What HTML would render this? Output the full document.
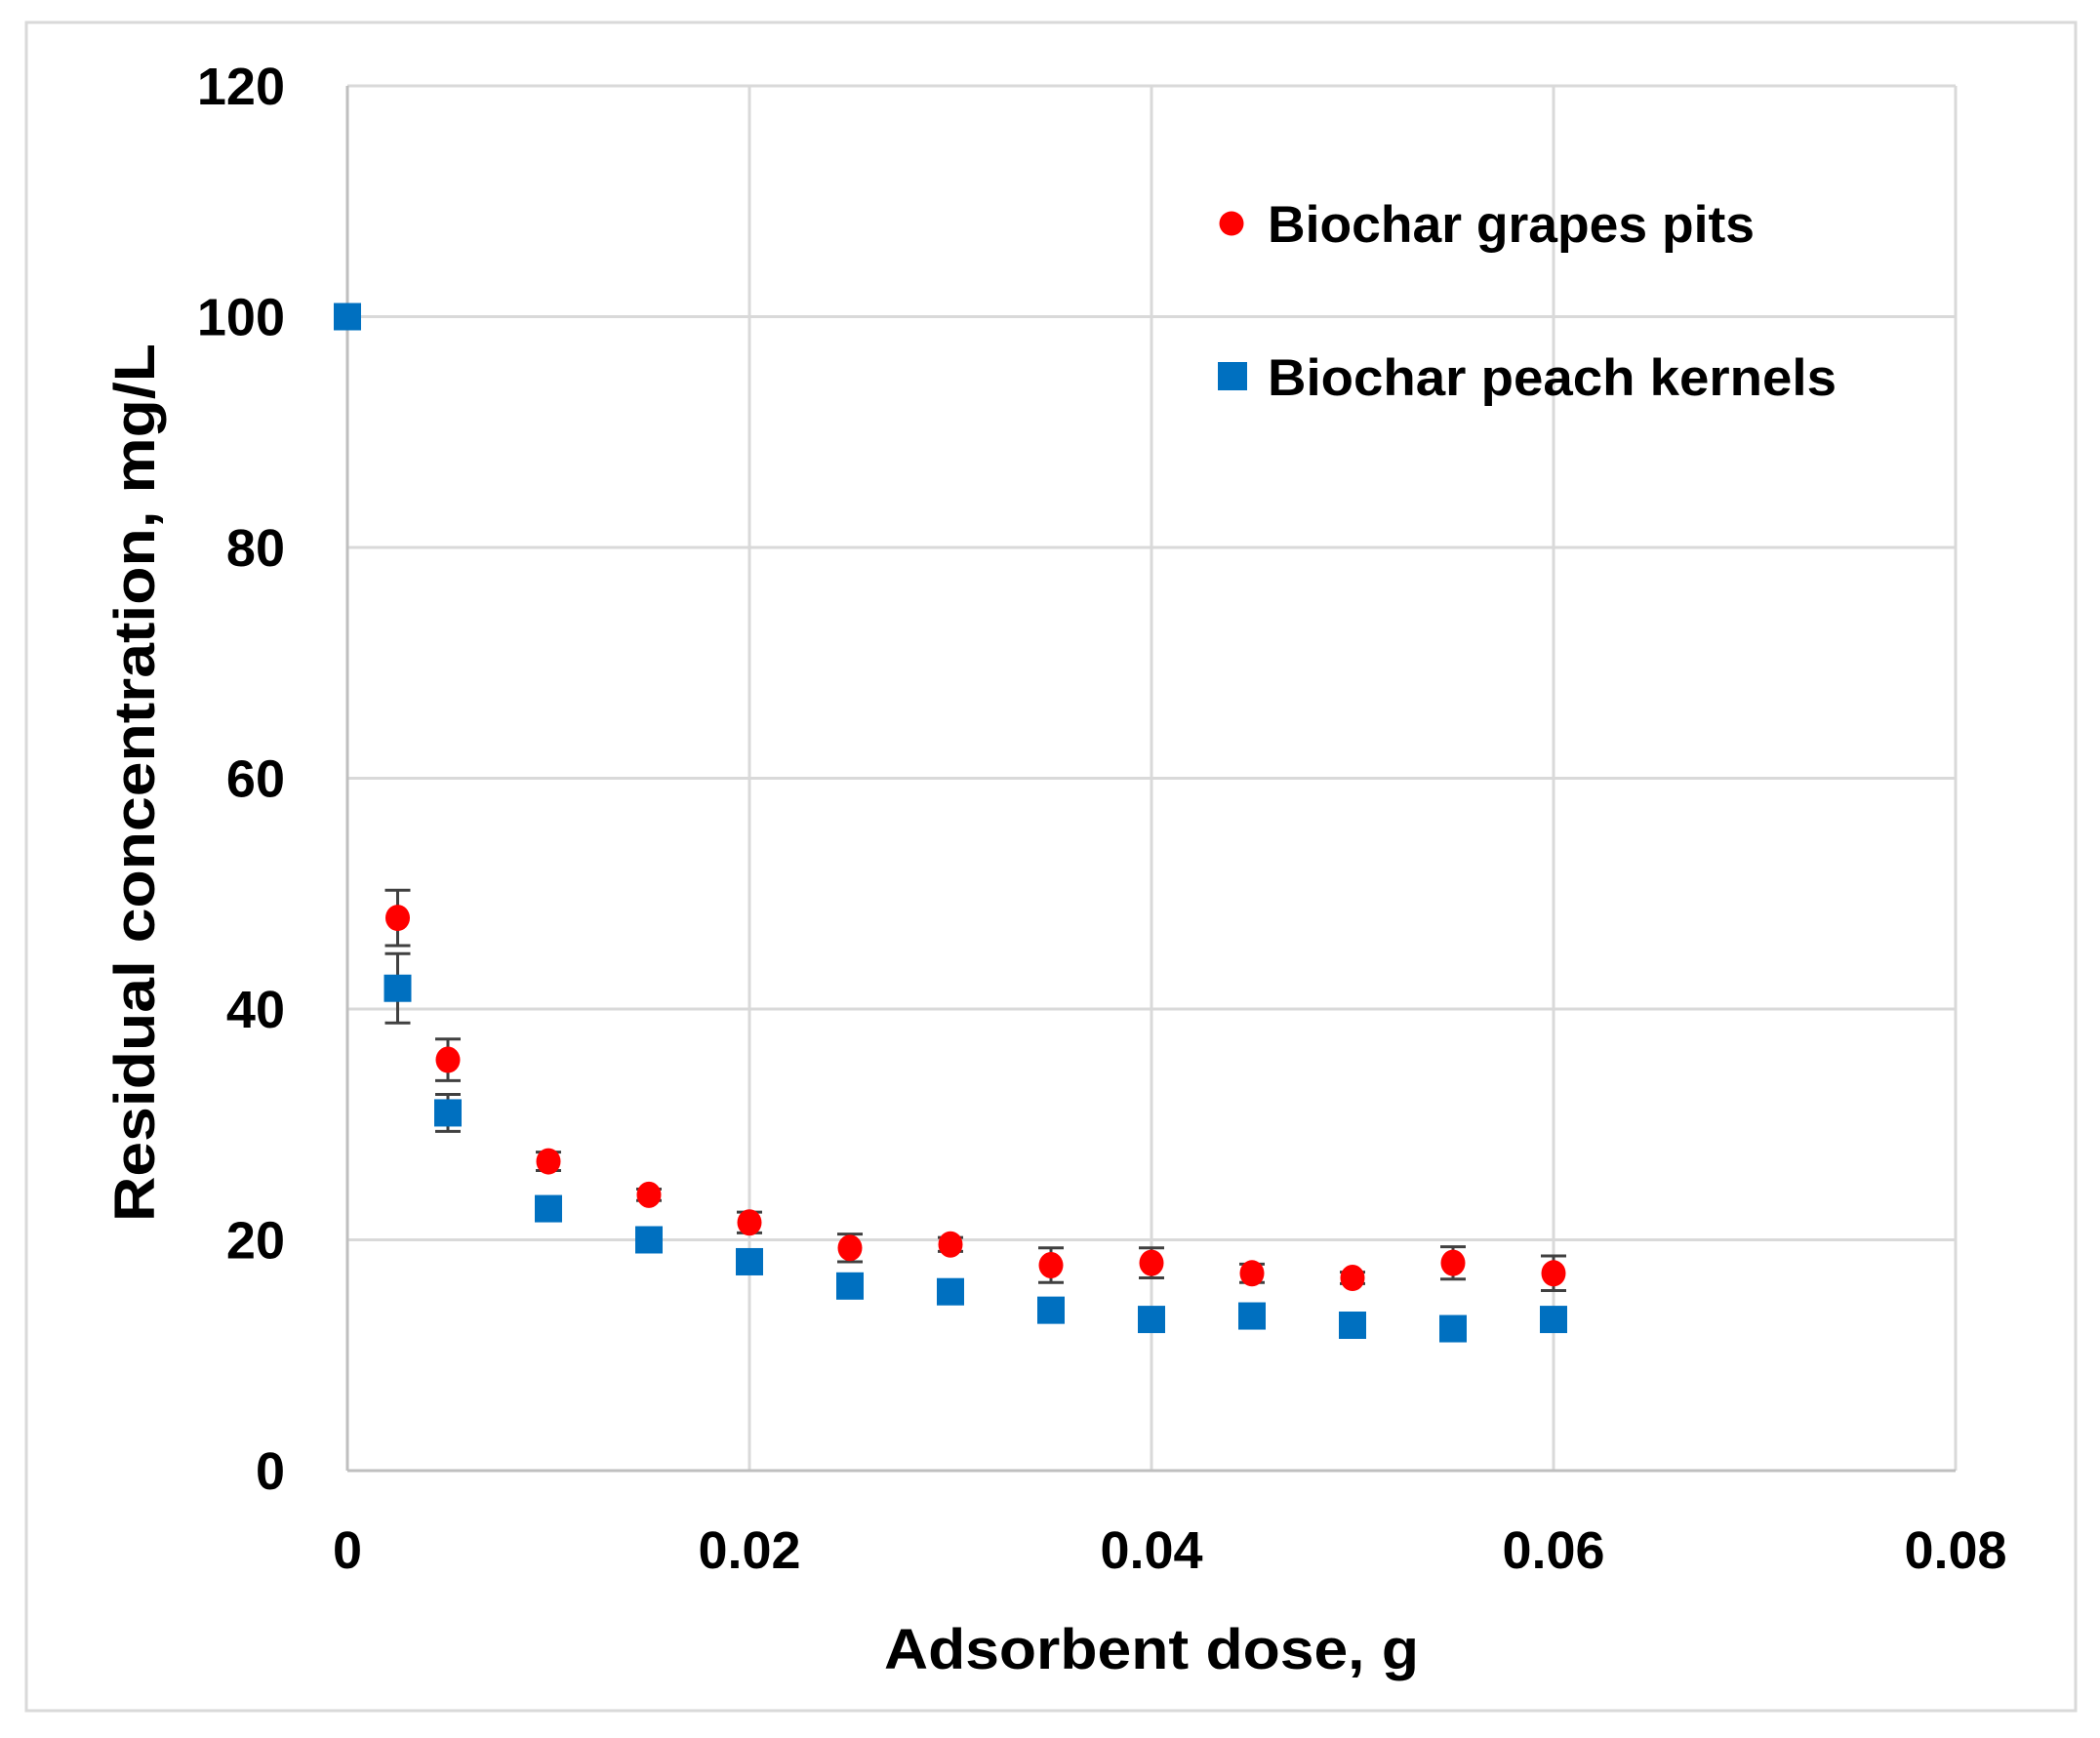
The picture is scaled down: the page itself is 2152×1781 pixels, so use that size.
<!DOCTYPE html>
<html><head><meta charset="utf-8">
<style>
html,body{margin:0;padding:0;background:#fff;}
svg{display:block;}
text{font-family:"Liberation Sans",sans-serif;font-weight:bold;fill:#000;}
</style></head>
<body>
<svg id="chart" width="2152" height="1781" viewBox="0 0 2152 1781" xmlns="http://www.w3.org/2000/svg">
<rect x="27" y="23" width="2100" height="1730" fill="#fff" stroke="#d9d9d9" stroke-width="3"/>
<g id="grid"></g>
<g id="ticks"></g>
<g id="marks"></g>
<text transform="translate(158,802) rotate(-90)" text-anchor="middle" font-size="58" textLength="900" lengthAdjust="spacingAndGlyphs">Residual concentration,  mg/L</text>
<text x="1180" y="1710" text-anchor="middle" font-size="58" textLength="548" lengthAdjust="spacingAndGlyphs">Adsorbent dose, g</text>
<g>
<circle cx="1262" cy="229" r="12.5" fill="#ff0000"/>
<text x="1299" y="248" font-size="53" textLength="499" lengthAdjust="spacingAndGlyphs">Biochar grapes pits</text>
<rect x="1248" y="371" width="30" height="29" fill="#0070c0"/>
<text x="1299" y="405" font-size="53" textLength="583" lengthAdjust="spacingAndGlyphs">Biochar peach kernels</text>
</g>
</svg>
<script>
const xTicks = [0, 0.02, 0.04, 0.06, 0.08];
const xTickLabels = ["0", "0.02", "0.04", "0.06", "0.08"];
const yTicks = [0, 20, 40, 60, 80, 100, 120];
const yTickLabels = ["0", "20", "40", "60", "80", "100", "120"];
const grapesX = [0.0025, 0.005, 0.01, 0.015, 0.02, 0.025, 0.03, 0.035, 0.04, 0.045, 0.05, 0.055, 0.06];
const grapesY = [47.9, 35.6, 26.8, 23.9, 21.5, 19.3, 19.6, 17.8, 18.0, 17.1, 16.7, 18.0, 17.1];
const grapesErr = [2.4, 1.8, 0.8, 0.5, 0.9, 1.2, 0.6, 1.5, 1.3, 0.8, 0.5, 1.4, 1.5];
const peachX = [0, 0.0025, 0.005, 0.01, 0.015, 0.02, 0.025, 0.03, 0.035, 0.04, 0.045, 0.05, 0.055, 0.06];
const peachY = [100, 41.8, 31.0, 22.7, 20.0, 18.1, 16.0, 15.5, 13.9, 13.1, 13.4, 12.6, 12.3, 13.1];
const peachErr = [0, 3.0, 1.6, 0.5, 0.5, 0.5, 0.5, 0.5, 0.5, 0.5, 0.5, 0.5, 0.5, 0.5];

const NS = "http://www.w3.org/2000/svg";
const X0 = 356, X1 = 2004, Y0 = 1507, Y1 = 88;
function sx(v){ return X0 + (v - 0) / 0.08 * (X1 - X0); }
function sy(v){ return Y0 - (v - 0) / 120 * (Y0 - Y1); }
function mk(tag, attrs, parent){
  const e = document.createElementNS(NS, tag);
  for (const k in attrs) e.setAttribute(k, attrs[k]);
  parent.appendChild(e);
  return e;
}
const grid = document.getElementById('grid');
const ticks = document.getElementById('ticks');
const marks = document.getElementById('marks');

yTicks.forEach((v, i) => {
  const l = mk('line', {x1: X0, x2: X1, y1: sy(v), y2: sy(v), stroke: '#d9d9d9', 'stroke-width': 3}, grid);
  
  
  const t = mk('text', {x: 292, y: sy(v) + 19, 'text-anchor': 'end', 'font-size': 54}, ticks);
  t.textContent = yTickLabels[i];
  
  
});
xTicks.forEach((v, i) => {
  const l = mk('line', {x1: sx(v), x2: sx(v), y1: Y1, y2: Y0, stroke: '#d9d9d9', 'stroke-width': 3}, grid);
  
  
  const t = mk('text', {x: sx(v), y: 1607, 'text-anchor': 'middle', 'font-size': 54}, ticks);
  t.textContent = xTickLabels[i];
  
  
});
mk('line', {x1: X0, x2: X0, y1: Y1, y2: Y0, stroke: '#bfbfbf', 'stroke-width': 3}, grid);
mk('line', {x1: X0, x2: X1, y1: Y0, y2: Y0, stroke: '#bfbfbf', 'stroke-width': 3}, grid);

function errBar(x, y, e){
  if (e <= 0) return;
  const g = mk('g', {stroke: '#404040', 'stroke-width': 3}, marks);
  
  
  mk('line', {x1: sx(x), x2: sx(x), y1: sy(y + e), y2: sy(y - e)}, g);
  mk('line', {x1: sx(x) - 13, x2: sx(x) + 13, y1: sy(y + e), y2: sy(y + e)}, g);
  mk('line', {x1: sx(x) - 13, x2: sx(x) + 13, y1: sy(y - e), y2: sy(y - e)}, g);
}
peachX.forEach((x, i) => errBar(x, peachY[i], peachErr[i]));
grapesX.forEach((x, i) => errBar(x, grapesY[i], grapesErr[i]));
peachX.forEach((x, i) => {
  const r = mk('rect', {x: sx(x) - 14, y: sy(peachY[i]) - 14, width: 28, height: 28, fill: '#0070c0'}, marks);
  
  
});
grapesX.forEach((x, i) => {
  const c = mk('ellipse', {cx: sx(x), cy: sy(grapesY[i]), rx: 12.5, ry: 13.5, fill: '#ff0000'}, marks);
  
  
});
</script>
</body></html>
